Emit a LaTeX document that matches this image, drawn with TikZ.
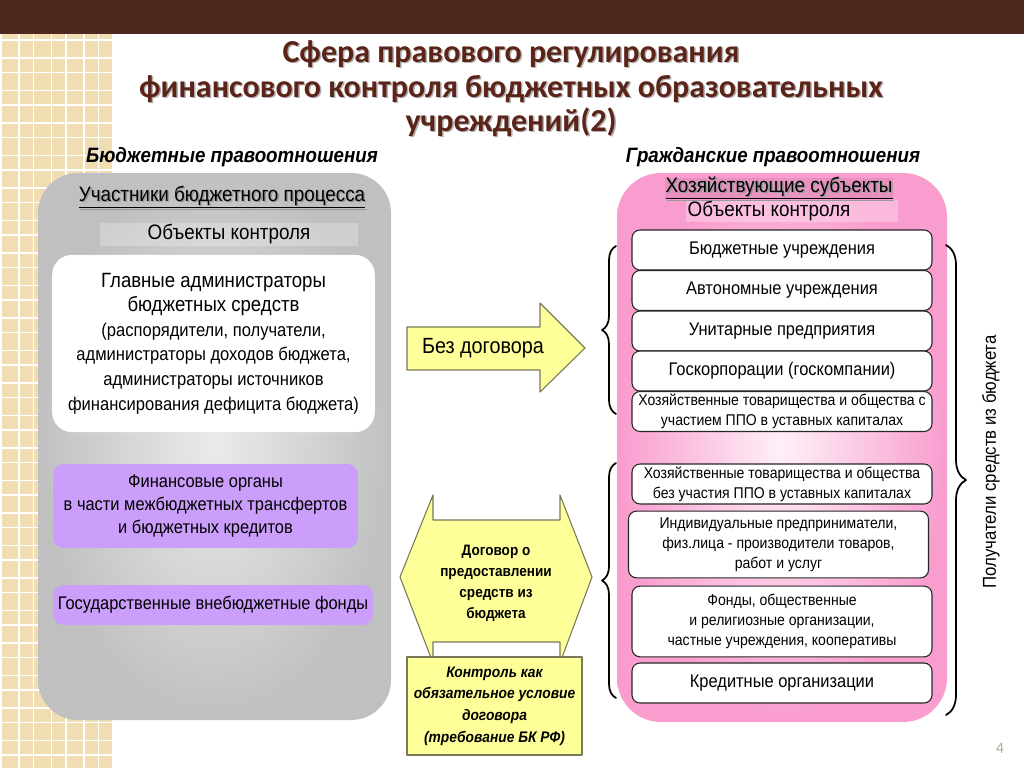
\documentclass[tikz,border=0pt]{standalone}
\usepackage{fontspec}
\setmainfont[FakeStretch=0.9]{Liberation Sans}
\newfontfamily\titlefont{Carlito}
\usetikzlibrary{decorations.pathreplacing}
\definecolor{barbrown}{RGB}{78,40,30}
\definecolor{tan}{RGB}{240,222,178}
\definecolor{titlered}{RGB}{92,36,24}
\definecolor{panelgray}{RGB}{192,192,192}
\definecolor{panelpink}{RGB}{249,156,206}
\definecolor{lilac}{RGB}{202,158,250}
\definecolor{lemon}{RGB}{255,255,153}
\definecolor{olive}{RGB}{120,120,90}
\definecolor{pagenum}{RGB}{180,170,150}
\newcommand\smallline{\fontsize{13.8}{18.4}\selectfont}
\begin{document}
\begin{tikzpicture}[x=0.75pt,y=-0.75pt,line join=round,line cap=round,inner sep=0pt,
	whitebox/.style={draw=black!85,line width=0.8pt,fill=white,rounded corners=6pt,minimum width=225pt,minimum height=30pt,align=center,font=\fontsize{13.7}{15}\selectfont},
	smallbox/.style={whitebox,font=\fontsize{11.7}{15}\selectfont},
	lilacbox/.style={fill=lilac,rounded corners=8pt,align=center,font=\fontsize{13.7}{17.3}\selectfont},
	lemonfill/.style={fill=lemon,draw=olive,line width=0.8pt},
	curly/.style={decorate,decoration={brace,amplitude=#1},line width=1.3pt},
	subhead/.style={font=\fontsize{15.6}{18}\selectfont\bfseries\itshape,anchor=base},
	panelhead/.style={font=\fontsize{15.7}{18}\selectfont},
	titleline/.style={font=\titlefont\fontsize{24}{26}\selectfont\bfseries,text=titlered,anchor=base},
	titleshade/.style={titleline,text=black!30}]
	\useasboundingbox (0,0) rectangle (1024,768);
	\fill[white] (0,0) rectangle (1024,768);
	\fill[tan] (0,34) rectangle (112,768);
	\begin{scope}
		\clip (0,34) rectangle (112,768);
		\foreach \k in {0,...,3}{\draw[white,line width=1.1pt] (\k*32.5+1,34) -- (\k*32.5+1,768) (\k*32.5+19,34) -- (\k*32.5+19,768);}
		\foreach \k in {0,...,22}{\draw[white,line width=1.1pt] (0,\k*32.5+40) -- (112,\k*32.5+40) (0,\k*32.5+58) -- (112,\k*32.5+58);}
	\end{scope}
	\fill[barbrown] (0,0) rectangle (1024,34);
	\node[titleshade] at (512.5,63.5) {Сфера правового регулирования};
	\node[titleshade] at (512.5,98.5) {финансового контроля бюджетных образовательных};
	\node[titleshade] at (512.5,132.5) {учреждений(2)};
	\node[titleline] (t1) at (511,62) {Сфера правового регулирования};
	\node[titleline] (t2) at (511,97) {финансового контроля бюджетных образовательных};
	\node[titleline] (t3) at (511,131) {учреждений(2)};
	\node[subhead] (budrel) at (232,162) {Бюджетные правоотношения};
	\node[subhead] (civrel) at (773,162) {Гражданские правоотношения};
	\shade[rounded corners=30pt,inner color=white!92!black,outer color=panelgray] (38,173) rectangle (391,720);
	\shade[rounded corners=33pt,inner color=panelpink!15!white,outer color=panelpink] (617,173) rectangle (947,722);
	\fill[white,opacity=0.25] (100,223) rectangle (358,246);
	\fill[black,opacity=0.07] (665,178) rectangle (893,199);
	\fill[white,opacity=0.3] (686,200) rectangle (898,222);
	\node[panelhead,text=black!40] at (223.5,198.5) {\underline{Участники бюджетного процесса}};
	\node[panelhead] (uchast) at (222,197) {\underline{Участники бюджетного процесса}};
	\node[panelhead] (objl) at (229,234) {Объекты контроля};
	\node[panelhead,text=black!40] at (780.5,189.5) {\underline{Хозяйствующие субъекты}};
	\node[panelhead] (hozsub) at (779,188) {\underline{Хозяйствующие субъекты}};
	\node[panelhead] (objr) at (769,211) {Объекты контроля};
	\node[fill=white,rounded corners=15pt,minimum width=242pt,minimum height=133pt,align=center,font=\fontsize{15.5}{18.4}\selectfont] (gabs) at (213.5,343.5) {Главные администраторы\\бюджетных средств\\\smallline(распорядители, получатели,\\\smallline администраторы доходов бюджета,\\\smallline администраторы источников\\\smallline финансирования дефицита бюджета)};
	\node[lilacbox,minimum width=228.75pt,minimum height=63pt] (finorg) at (205.5,506) {Финансовые органы\\в части межбюджетных трансфертов\\и бюджетных кредитов};
	\node[lilacbox,minimum width=240pt,minimum height=30pt] (gvf) at (213,605) {Государственные внебюджетные фонды};
	\draw[lemonfill] (407,327) -- (540,327) -- (540,303) -- (585,348) -- (540,392) -- (540,370) -- (407,370) -- cycle;
	\node[font=\fontsize{16.5}{18}\selectfont] (bezdog) at (483,348) {Без договора};
	\draw[lemonfill] (400,577) -- (433,495) -- (433,520) -- (560,520) -- (560,495) -- (592,577) -- (560,663) -- (560,642) -- (433,642) -- (433,663) -- cycle;
	\node[align=center,font=\fontsize{11.3}{15.8}\selectfont\bfseries] (dogovor) at (496,583) {Договор о\\предоставлении\\средств из\\бюджета};
	\node[lemonfill,minimum width=131.25pt,minimum height=73.5pt,align=center,font=\fontsize{11.5}{16.3}\selectfont\bfseries\itshape] (kontrol) at (494.5,706) {Контроль как\\обязательное условие\\договора\\(требование БК РФ)};
	\foreach \name/\yc/\txt in {bu/250/Бюджетные учреждения,au/290.5/Автономные учреждения,up/331/Унитарные предприятия,gk/371/Госкорпорации (госкомпании)}
		\node[whitebox] (\name) at (782,\yc) {\txt};
	\node[smallbox] (htsppo) at (782,411.5) {Хозяйственные товарищества и общества с\\участием ППО в уставных капиталах};
	\node[smallbox] (htbppo) at (782,484) {Хозяйственные товарищества и общества\\без участия ППО в уставных капиталах};
	\node[smallbox,minimum height=50pt] (ip) at (778.5,544.5) {Индивидуальные предприниматели,\\физ.лица - производители товаров,\\работ и услуг};
	\node[smallbox,minimum height=53pt] (fond) at (782,621.5) {Фонды, общественные\\и религиозные организации,\\частные учреждения, кооперативы};
	\node[whitebox] (kred) at (782,683) {Кредитные организации};
	\path (616,414) coordinate (lbA) (616,246) coordinate (lbB)
		(616,698) coordinate (lbC) (616,463) coordinate (lbD)
		(946,245) coordinate (rbA) (946,715) coordinate (rbB);
	\draw[curly=10.5pt] (lbA) -- (lbB);
	\draw[curly=10.5pt] (lbC) -- (lbD);
	\draw[curly=15pt] (rbA) -- (rbB);
	\node[rotate=90,font=\fontsize{14}{15}\selectfont] (poluch) at (991,462) {Получатели средств из бюджета};
	\node[font=\titlefont\fontsize{12}{14}\selectfont,text=pagenum] (pnum) at (1000,748) {4};
\end{tikzpicture}
\end{document}
